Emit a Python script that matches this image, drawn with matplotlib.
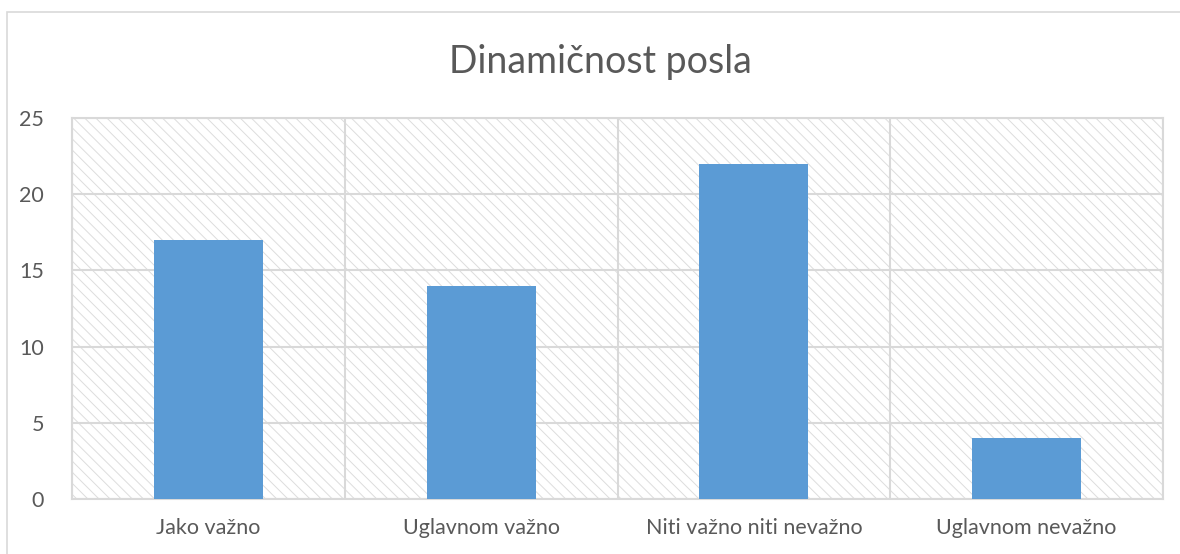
import matplotlib
matplotlib.use("Agg")
import matplotlib.pyplot as plt
from matplotlib.patches import Rectangle

categories = ["Jako važno", "Uglavnom važno", "Niti važno niti nevažno", "Uglavnom nevažno"]
values = [17, 14, 22, 4]
y_ticks = [0, 5, 10, 15, 20, 25]

GRAY = "#D9D9D9"
TEXT = "#595959"
BAR = "#5B9BD5"

plt.rcParams["font.family"] = ["Lato", "DejaVu Sans"]
plt.rcParams["hatch.color"] = "#DDDDDD"
plt.rcParams["hatch.linewidth"] = 0.7

fig = plt.figure(figsize=(11.8, 5.54), dpi=100)
ax = fig.add_axes([72 / 1180, 55 / 554, 1091 / 1180, 381 / 554])

# outer chart border (runs off the right/bottom edge like the reference)
fig.patches.append(Rectangle((7 / 1180, -0.1), 1.2, (542 / 554) + 0.1,
                             transform=fig.transFigure, fill=False,
                             edgecolor=GRAY, linewidth=1.2, zorder=0))

# hatched plot area background
ax.set_facecolor("white")
ax.add_patch(Rectangle((0, 0), 1, 1, transform=ax.transAxes, facecolor="white",
                       edgecolor="#DDDDDD", linewidth=0, hatch="\\\\\\", zorder=0))

x = list(range(len(categories)))
ax.bar(x, values, width=0.4, color=BAR, zorder=3)

ax.set_xlim(-0.5, len(categories) - 0.5)
ax.set_ylim(0, 25)
ax.set_yticks(y_ticks)
ax.set_xticks(x)
ax.set_xticklabels(categories)
ax.set_xticks([i - 0.5 for i in range(len(categories) + 1)], minor=True)

ax.grid(axis="y", color=GRAY, linewidth=1.5, zorder=1)
ax.grid(axis="x", which="minor", color=GRAY, linewidth=1.5, zorder=1)
ax.set_axisbelow(True)

for s in ax.spines.values():
    s.set_color(GRAY)
    s.set_linewidth(1.5)

ax.tick_params(axis="both", which="both", length=0, labelsize=15.5, colors=TEXT)
ax.tick_params(axis="y", pad=20)
ax.tick_params(axis="x", pad=14)

fig.text(600 / 1180, 1 - 62 / 554, "Dinamičnost posla", ha="center", va="center",
         fontsize=27, color=TEXT)

fig.savefig("out.png", dpi=100)
